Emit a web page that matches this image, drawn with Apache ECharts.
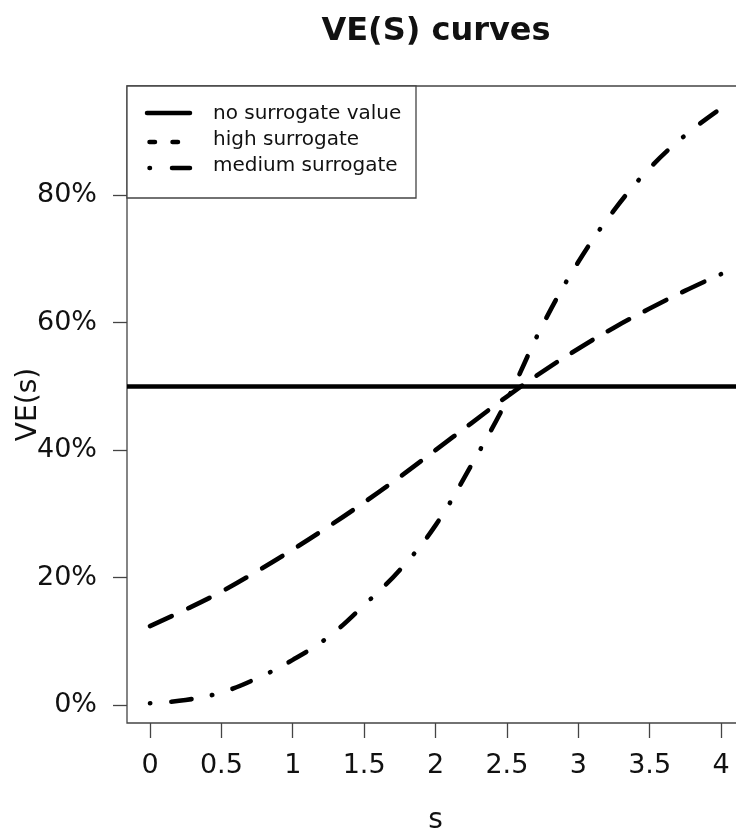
<!DOCTYPE html>
<html><head><meta charset="utf-8">
<script src="https://cdn.jsdelivr.net/npm/echarts@6/dist/echarts.min.js"></script>
<style>html,body{margin:0;padding:0;background:#fff}#c{width:736px;height:838px}</style>
</head><body><div id="c"></div>
<script>
// ---- data ----
const sValues = [0, 0.25, 0.5, 0.75, 1, 1.25, 1.5, 1.75, 2, 2.25, 2.5, 2.75, 3, 3.25, 3.5, 3.75, 4];
const highSurrogate = [0.3, 0.8, 2.0, 4.2, 7.1, 10.7, 15.7, 21.2, 28.2, 37.6, 47.8, 59.6, 69.5, 77.6, 84.2, 89.4, 93.6];
const mediumSurrogate = [12.4, 15.0, 17.8, 21.0, 24.4, 28.0, 31.8, 35.8, 40.0, 44.2, 48.4, 52.3, 55.9, 59.2, 62.2, 65.0, 67.6];
const noSurrogateValue = 50;
const xTicks = [0, 0.5, 1, 1.5, 2, 2.5, 3, 3.5, 4];
const yTicks = [0, 20, 40, 60, 80];
const titleText = 'VE(S) curves';
const legendNames = ['no surrogate value', 'high surrogate', 'medium surrogate'];

const FONT = '"DejaVu Sans", "Liberation Sans", Arial, sans-serif';
const chart = echarts.init(document.getElementById('c'), null, {renderer: 'canvas'});

function pairs(xs, ys) { return xs.map((x, i) => [x, ys[i]]); }

// measure title to centre it over the plot region
const mc = document.createElement('canvas').getContext('2d');
mc.font = 'bold 32px ' + FONT;
const titleW = mc.measureText(titleText).width;
const plotCenterX = 436;

const axisCol = '#444';
const legendX = 127, legendY = 86;
const rowY = [114, 140, 166];

chart.setOption({
  animation: false,
  backgroundColor: '#fff',
  title: {
    text: titleText, left: plotCenterX - titleW / 2, top: 16, padding: 0,
    textStyle: {fontFamily: FONT, fontSize: 32, fontWeight: 'bold', color: '#111'}
  },
  grid: {left: 127, top: 86, right: -8, bottom: 115, outerBoundsMode: 'none', containLabel: false,
         show: true, borderColor: axisCol, borderWidth: 1.3, backgroundColor: 'transparent'},
  xAxis: {
    type: 'value', min: -0.161, max: 4.161,
    name: 's', nameLocation: 'middle', nameGap: 84, nameMoveOverlap: false,
    nameTextStyle: {fontFamily: FONT, fontSize: 28, color: '#111'},
    axisLine: {show: false, onZero: false},
    axisTick: {show: true, customValues: xTicks, length: 15, inside: false, lineStyle: {color: axisCol, width: 1.3}},
    axisLabel: {customValues: xTicks, margin: 29, fontFamily: FONT, fontSize: 27, color: '#111'},
    splitLine: {show: false}
  },
  yAxis: {
    type: 'value', min: -2.8, max: 97.1,
    name: 'VE(s)', nameLocation: 'middle', nameGap: 84, nameRotate: 90, nameMoveOverlap: false,
    nameTextStyle: {fontFamily: FONT, fontSize: 28, color: '#111'},
    axisLine: {show: false, onZero: false},
    axisTick: {show: true, customValues: yTicks, length: 14, inside: false, lineStyle: {color: axisCol, width: 1.3}},
    axisLabel: {customValues: yTicks, margin: 30, fontFamily: FONT, fontSize: 27, color: '#111', formatter: '{value}%'},
    splitLine: {show: false}
  },
  series: [
    {
      name: legendNames[0], type: 'line', data: [], symbol: 'none',
      markLine: {
        silent: true, symbol: 'none', label: {show: false},
        lineStyle: {color: '#000', width: 4.5, type: 'solid'},
        data: [{yAxis: noSurrogateValue}]
      }
    },
    {
      name: legendNames[1], type: 'line', data: pairs(sValues, highSurrogate), symbol: 'none', smooth: 0.4,
      lineStyle: {color: '#000', width: 4.6, type: [0.5, 21, 20, 21], cap: 'round', join: 'round'}
    },
    {
      name: legendNames[2], type: 'line', data: pairs(sValues, mediumSurrogate), symbol: 'none', smooth: 0.4,
      lineStyle: {color: '#000', width: 4.6, type: [24, 18], cap: 'round', join: 'round'}
    }
  ],
  graphic: [
    {type: 'rect', z: 100, shape: {x: legendX, y: legendY, width: 289, height: 112},
     style: {fill: '#fff', stroke: axisCol, lineWidth: 1.3}},
    {type: 'line', z: 101, shape: {x1: 147, y1: 113, x2: 190, y2: 113},
     style: {stroke: '#000', lineWidth: 4.5, lineCap: 'round'}},
    {type: 'line', z: 101, shape: {x1: 149.5, y1: 142, x2: 192, y2: 142},
     style: {stroke: '#000', lineWidth: 4.5, lineCap: 'round', lineDash: [5.5, 17.5]}},
    {type: 'line', z: 101, shape: {x1: 149.5, y1: 168, x2: 190, y2: 168},
     style: {stroke: '#000', lineWidth: 4.5, lineCap: 'round', lineDash: [0.5, 22, 20, 20]}},
    {type: 'text', z: 101, x: 213, y: rowY[0], style: {text: legendNames[0], font: '20px ' + FONT, fill: '#111', verticalAlign: 'middle'}},
    {type: 'text', z: 101, x: 213, y: rowY[1], style: {text: legendNames[1], font: '20px ' + FONT, fill: '#111', verticalAlign: 'middle'}},
    {type: 'text', z: 101, x: 213, y: rowY[2], style: {text: legendNames[2], font: '20px ' + FONT, fill: '#111', verticalAlign: 'middle'}}
  ]
});
</script>
</body></html>
